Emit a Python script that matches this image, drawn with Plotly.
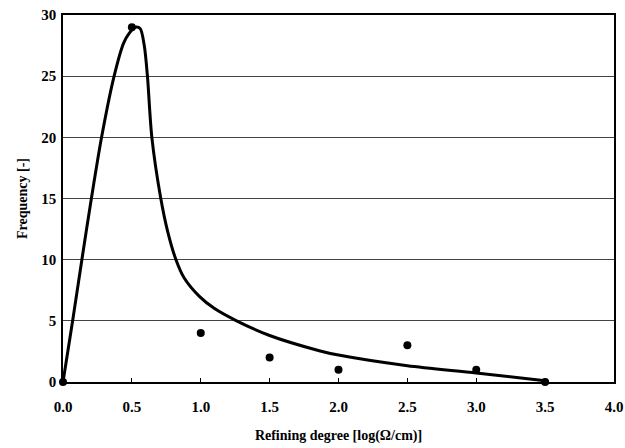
import plotly.graph_objects as go

# Measured data points
data_x = [0.0, 0.5, 1.0, 1.5, 2.0, 2.5, 3.0, 3.5]
data_y = [0, 29, 4, 2, 1, 3, 1, 0]

# Fitted curve
curve_x = [0.0, 0.07, 0.137, 0.206, 0.28, 0.371, 0.44, 0.48, 0.524, 0.56, 0.59, 0.613,
           0.645, 0.71, 0.76, 0.82, 0.88, 0.99, 1.1, 1.26, 1.5, 1.86, 2.0, 2.5, 3.0, 3.5]
curve_y = [0, 5, 10, 15, 20, 25, 27.7, 28.5, 29.0, 28.9, 27.5, 25,
           20, 15, 12.3, 10, 8.5, 7.0, 6.0, 5.0, 3.8, 2.56, 2.2, 1.33, 0.74, 0.1]

x_ticks = [0.0, 0.5, 1.0, 1.5, 2.0, 2.5, 3.0, 3.5, 4.0]
y_ticks = [0, 5, 10, 15, 20, 25, 30]

font_family = "Liberation Serif, Times New Roman, serif"

fig = go.Figure()
fig.add_trace(go.Scatter(
    x=curve_x, y=curve_y, mode="lines",
    line=dict(color="black", width=3, shape="spline", smoothing=0.8),
    cliponaxis=False, showlegend=False, hoverinfo="skip"))
fig.add_trace(go.Scatter(
    x=data_x, y=data_y, mode="markers",
    marker=dict(color="black", size=8),
    cliponaxis=False, showlegend=False))

fig.update_layout(
    width=625, height=448,
    margin=dict(l=63, r=11, t=15, b=66),
    paper_bgcolor="white", plot_bgcolor="white",
    font=dict(family=font_family, size=15, color="black"),
)
fig.update_xaxes(
    range=[0, 4], tickvals=x_ticks,
    ticktext=[f"{v:.1f}" for v in x_ticks],
    tickfont=dict(family=font_family, size=15, color="black", weight="bold"),
    showgrid=False, zeroline=False, automargin=False,
    showline=True, linecolor="black", linewidth=1.5, mirror=True,
    ticks="inside", ticklen=4, tickcolor="black", tickwidth=1,
    ticklabelstandoff=10,
    title=dict(text="<b>Refining degree [log(Ω/cm)]</b>",
               font=dict(family=font_family, size=14, color="black"), standoff=16),
)
fig.update_yaxes(
    range=[0, 30], tickvals=y_ticks,
    ticktext=[str(v) for v in y_ticks],
    tickfont=dict(family=font_family, size=15, color="black", weight="bold"),
    showgrid=True, gridcolor="#444444", gridwidth=1, zeroline=False, automargin=False,
    showline=True, linecolor="black", linewidth=1.5, mirror=True,
    ticks="", ticklen=0, ticklabelstandoff=2,
    title=dict(text="<b>Frequency [-]</b>",
               font=dict(family=font_family, size=14, color="black"), standoff=10),
)

fig.write_html("out.html", config={"displayModeBar": False},
               post_script="document.body.style.margin='0';")
